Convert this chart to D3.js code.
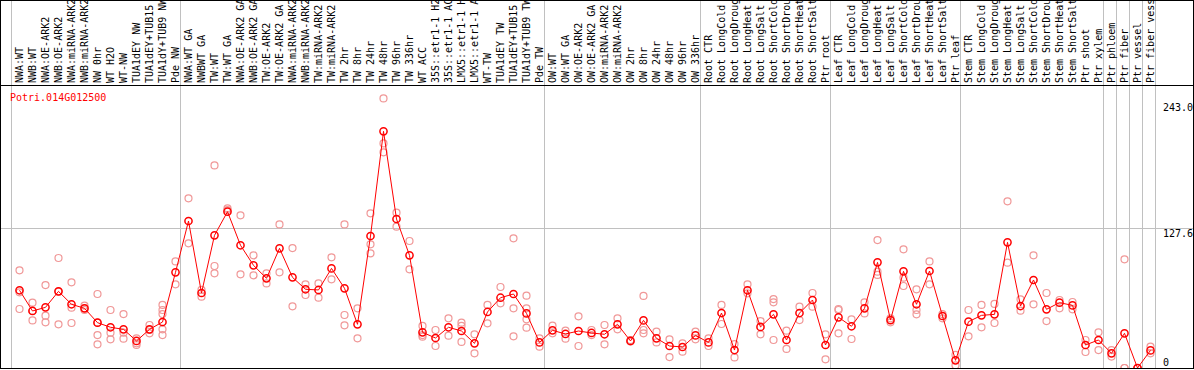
<!DOCTYPE html>
<html>
<head>
<meta charset="utf-8">
<script src="https://cdn.jsdelivr.net/npm/d3@7"></script>
<style>
  body { margin: 0; background: #fff; }
  svg { display: block; font-family: 'DejaVu Sans Mono', monospace; font-size: 10px; }
</style>
</head>
<body>
<div id="chart"></div>
<script>
const gene = 'Potri.014G012500'

const labels = [
  'NWA:WT', 'NWB:WT', 'NWA:OE-ARK2', 'NWB:OE-ARK2', 'NWA:miRNA-ARK2', 'NWB:miRNA-ARK2',
  'NW 0hr', 'WT H2O', 'WT-NW', 'TUA1dEY NW', 'TUA1dEY+TUB15 NW', 'TUA1dY+TUB9 NW', 'Pde NW',
  'NWA:WT GA', 'NWBWT GA', 'TW:WT', 'TW:WT GA', 'NWA:OE-ARK2 GA', 'NWB:OE-ARK2 GA',
  'TW:OE-ARK2', 'TW:OE-ARK2 GA', 'NWA:miRNA-ARK2 GA', 'NWB:miRNA-ARK2 GA', 'TW:miRNA-ARK2',
  'TW:miRNA-ARK2 GA', 'TW 2hr', 'TW 8hr', 'TW 24hr', 'TW 48hr', 'TW 96hr', 'TW 336hr',
  'WT ACC', '35S::etr1-1 H2O', '35S::etr1-1 ACC', 'LMX5::etr1-1 H2O', 'LMX5::etr1-1 ACC',
  'WT-TW', 'TUA1dEY TW', 'TUA1dEY+TUB15 TW', 'TUA1dY+TUB9 TW', 'Pde TW',
  'OW:WT', 'OW:WT GA', 'OW:OE-ARK2', 'OW:OE-ARK2 GA', 'OW:miRNA-ARK2', 'OW:miRNA-ARK2 GA',
  'OW 2hr', 'OW 8hr', 'OW 24hr', 'OW 48hr', 'OW 96hr', 'OW 336hr',
  'Root CTR', 'Root LongCold', 'Root LongDrought', 'Root LongHeat', 'Root LongSalt',
  'Root ShortCold', 'Root ShortDrought', 'Root ShortHeat', 'Root ShortSalt', 'Ptr root',
  'Leaf CTR', 'Leaf LongCold', 'Leaf LongDrought', 'Leaf LongHeat', 'Leaf LongSalt',
  'Leaf ShortCold', 'Leaf ShortDrought', 'Leaf ShortHeat', 'Leaf ShortSalt', 'Ptr leaf',
  'Stem CTR', 'Stem LongCold', 'Stem LongDrought', 'Stem LongHeat', 'Stem LongSalt',
  'Stem ShortCold', 'Stem ShortDrought', 'Stem ShortHeat', 'Stem ShortSalt', 'Ptr shoot',
  'Ptr xylem', 'Ptr phloem', 'Ptr fiber', 'Ptr vessel', 'Ptr fiber vessel'
]

// column index where each separator line sits
const groupBreaks = [0, 13, 41, 53, 63, 73, 84, 85, 86, 87, 88]

const means = [
  71.0, 52.1, 55.4, 70.0, 58.2, 54.5, 41.4, 37.2, 35.3, 24.7, 35.3, 42.0, 87.4,
  134.3, 68.5, 121.2, 142.8, 112.1, 93.8, 81.9, 109.3, 82.8, 71.9, 71.3, 91.0, 72.8, 39.9,
  120.6, 216.2, 136.1, 102.9, 32.6, 27.4, 37.2, 33.8, 22.5, 51.2, 64.2, 67.6, 49.9, 23.4,
  34.4, 31.1, 33.8, 32.0, 30.8, 39.9, 24.7, 43.5, 27.1, 20.1, 19.2, 29.8,
  23.4, 50.2, 16.4, 71.0, 37.5, 49.0, 25.6, 50.2, 62.1, 21.0,
  46.3, 38.1, 54.5, 96.5, 43.8, 88.3, 58.2, 88.6, 47.5, 7.0,
  42.3, 48.1, 49.0, 114.8, 56.6, 80.4, 53.6, 59.7, 57.2, 21.0, 25.6,
  13.4, 31.7, 0, 16.1
]

const replicates = [
  [89.2, 69.1, 53.9], [59.7, 52.1, 43.5], [75.8, 47.8, 41.7], [100.5, 69.7, 39.9],
  [78.3, 55.1, 41.1], [56.9, 54.5, 53.0], [67.6, 41.4, 30.1, 21.6], [53.0, 32.3, 26.2],
  [49.3, 32.3, 26.8], [27.1, 22.5, 21.0], [39.3, 34.7, 31.7], [57.6, 53.0, 49.3, 35.3, 30.1],
  [97.4, 76.4],
  [155.0, 113.9], [71.3, 65.2], [185.1, 93.2, 86.5], [145.9, 144.3], [139.5, 85.6],
  [102.9, 84.7], [86.5, 77.3], [131.2, 87.4], [109.6, 56.3], [76.4, 66.7], [77.3, 64.2],
  [101.1, 81.0], [131.2, 48.4, 39.0], [54.5, 27.1], [141.3, 113.0, 104.8],
  [246.3, 205.2, 197.0], [141.9, 129.1], [116.0, 90.1], [38.4, 30.1, 28.6], [34.7, 20.1],
  [45.4, 29.5], [41.4, 38.4, 23.8], [30.8, 13.4], [57.6, 40.8], [74.0, 59.1],
  [118.5, 54.5, 28.9], [66.1, 54.5, 44.5, 36.8], [27.1, 19.5],
  [38.7, 31.7], [34.1, 26.8], [47.2, 20.1], [34.7, 30.1], [39.3, 21.6], [45.4, 35.3],
  [25.6, 24.1], [65.8, 34.7, 31.7], [33.2, 23.4], [26.2, 10.0], [22.5, 14.9], [33.2, 26.2],
  [27.1, 20.1], [57.6, 40.2], [21.9, 9.7], [76.4, 68.2], [42.9, 30.8], [63.0, 60.0, 25.6],
  [34.1, 17.4], [56.0, 43.8], [68.5, 56.0], [30.8, 7.9],
  [53.9, 53.0, 31.7], [44.5, 26.5], [60.0, 49.9], [116.9, 88.0, 85.0], [45.4, 41.7],
  [108.4, 82.5, 74.9], [71.9, 53.0, 49.0], [97.4, 76.4], [49.3, 45.4], [11.9, 2.4],
  [53.0, 28.9], [57.6, 37.2], [58.5, 41.1], [152.3, 96.2], [62.7, 52.4], [102.9, 58.2],
  [68.5, 42.9], [62.1, 54.5], [60.3, 53.6], [25.6, 14.6], [32.6, 16.4],
  [16.4, 10.4], [99.3, 0, 0], [0, 0], [19.5, 13.4]
]

const tickValues = [0, 127.6, 243.0]
const tickLabels = ['0', '127.6', '243.0']

const width = 1194
const height = 370
const headH = 85      // label strip height
const plotBottom = 368
const colLeft = 11
const colRight = 1155

const svg = d3.select('#chart').append('svg')
  .attr('width', width)
  .attr('height', height)

const x = d3.scaleBand()
  .domain(d3.range(labels.length))
  .range([colLeft, colRight])

// markers and labels sit a little right of the band centre in the original
const cx = i => x(i) + x.bandwidth() / 2 + 2

const y = d3.scaleLinear()
  .domain([0, 243.0])
  .range([plotBottom, 102])

const defs = svg.append('defs')
defs.append('clipPath').attr('id', 'clip-plot')
  .append('rect').attr('x', 1).attr('y', headH + 1).attr('width', width - 2).attr('height', plotBottom - headH - 1)
defs.append('clipPath').attr('id', 'clip-head')
  .append('rect').attr('x', 1).attr('y', 1).attr('width', width - 2).attr('height', headH - 1)

// Grid
const gGrid = svg.append('g').attr('shape-rendering', 'crispEdges')
gGrid.selectAll('line.sep')
  .data(groupBreaks)
  .enter().append('line')
  .attr('class', 'sep')
  .attr('x1', d => x(d) === undefined ? colRight + 0.5 : x(d) + 0.5)
  .attr('x2', d => x(d) === undefined ? colRight + 0.5 : x(d) + 0.5)
  .attr('y1', 0)
  .attr('y2', plotBottom)
  .attr('stroke', '#c0c0c0')

gGrid.append('line')
  .attr('x1', 0)
  .attr('x2', width)
  .attr('y1', Math.round(y(127.6)) + 0.5)
  .attr('y2', Math.round(y(127.6)) + 0.5)
  .attr('stroke', '#c0c0c0')

// Frame
const gFrame = svg.append('g').attr('shape-rendering', 'crispEdges')
gFrame.append('rect')
  .attr('x', 0.5)
  .attr('y', 0.5)
  .attr('width', width - 1.5)
  .attr('height', plotBottom)
  .attr('fill', 'none')
  .attr('stroke', 'black')
gFrame.append('line')
  .attr('x1', 0)
  .attr('x2', width)
  .attr('y1', headH + 0.5)
  .attr('y2', headH + 0.5)
  .attr('stroke', 'black')

// Column labels, rotated
svg.append('g')
  .attr('clip-path', 'url(#clip-head)')
  .selectAll('text')
  .data(labels)
  .enter().append('text')
  .attr('transform', (d, i) => `translate(${cx(i) + 3.5},${headH - 2}) rotate(-90)`)
  .attr('fill', 'black')
  .text(d => d)

// Right axis
const axis = d3.axisRight(y)
  .tickValues(tickValues)
  .tickSize(0)
  .tickPadding(0)
  .tickFormat((d, i) => tickLabels[i])

const gAxis = svg.append('g')
  .attr('transform', `translate(1163,0)`)
  .call(axis)
gAxis.select('.domain').remove()
gAxis.attr('font-family', null).attr('font-size', null)
gAxis.selectAll('text')
  .attr('fill', 'black')
  .attr('dy', d => d === 0 ? '-0.25em' : '0.8em')

// Data
const gPlot = svg.append('g').attr('clip-path', 'url(#clip-plot)')

const repPoints = []
replicates.forEach((r, i) => r.forEach(v => repPoints.push({ i, v })))

gPlot.selectAll('circle.rep')
  .data(repPoints)
  .enter().append('circle')
  .attr('class', 'rep')
  .attr('cx', d => cx(d.i))
  .attr('cy', d => y(d.v))
  .attr('r', 3.5)
  .attr('fill', 'none')
  .attr('stroke', '#f09898')
  .attr('stroke-width', 1.2)

const line = d3.line()
  .x((d, i) => cx(i))
  .y(d => y(d))

gPlot.append('path')
  .datum(means)
  .attr('d', line)
  .attr('fill', 'none')
  .attr('stroke', '#ff0000')
  .attr('stroke-width', 1)

gPlot.selectAll('circle.mean')
  .data(means)
  .enter().append('circle')
  .attr('class', 'mean')
  .attr('cx', (d, i) => cx(i))
  .attr('cy', d => y(d))
  .attr('r', 3.6)
  .attr('fill', 'none')
  .attr('stroke', '#ff0000')
  .attr('stroke-width', 1.5)

// Gene name
svg.append('text')
  .attr('x', 10)
  .attr('y', 101)
  .attr('fill', '#ff0000')
  .text(gene)
</script>
</body>
</html>
